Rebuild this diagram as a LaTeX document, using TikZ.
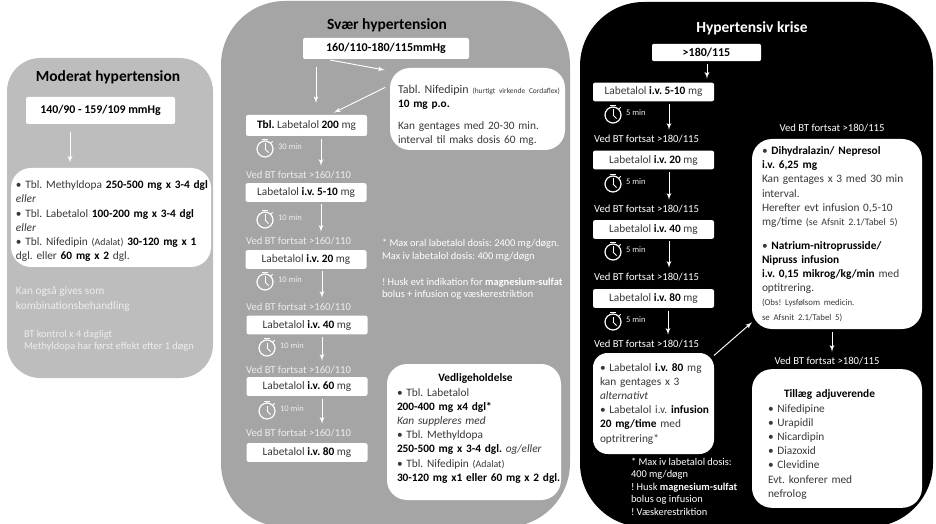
\documentclass[tikz,border=0pt]{standalone}
\usepackage{fontspec}
\setmainfont{Carlito}
\usetikzlibrary{arrows}
\definecolor{lysgraa}{HTML}{BDBDBD}
\definecolor{mellemgraa}{HTML}{A5A5A5}
\definecolor{blegtekst}{HTML}{EDEDED}
\newcommand{\bd}[1]{{\color{black}\bfseries #1}}
\newcommand{\lille}[1]{{\fontsize{6.6}{8}\selectfont #1}}
\newcommand{\stopur}[4]{%
\draw (#2,#3) node (#1) [ur] {};
\draw[urvisir] (#1.center) -- ++(0,-5.5);
\draw[urvisir] (#1.center) -- ++(3.5,3.5);
\draw[urvisir] (#1.north) ++(-3,-1.5) -- ++(6,0);
\draw[urvisir] (#1.45) -- ++(2,-2);
\draw (#2+13,#3-2) node (#1tid) [urtekst] {#4};
}
\begin{document}
\begin{tikzpicture}[x=.75pt,y=-.75pt]
\tikzstyle{every node}=[inner sep=0pt, outer sep=0pt, font=\fontsize{8.5}{10.65}\selectfont\frenchspacing, text=black!78]
\tikzstyle{titel}=[font=\fontsize{11.6}{14}\selectfont\bfseries, text=black]
\tikzstyle{dosis}=[fill=white, rounded corners=1.5pt, minimum width=90.75pt, minimum height=14pt]
\tikzstyle{kasse}=[fill=white, rounded corners=15pt, align=left]
\tikzstyle{fortsat}=[anchor=west, text=blegtekst, font=\fontsize{8}{10}\selectfont\frenchspacing]
\tikzstyle{fortsatsort}=[anchor=west, text=white, font=\fontsize{8}{10}\selectfont\frenchspacing]
\tikzstyle{note}=[anchor=north west, align=left, text=blegtekst, font=\fontsize{7.8}{9.4}\selectfont\frenchspacing]
\tikzstyle{pil}=[draw=white, line width=.7pt, -latex', shorten <=2pt, shorten >=4pt]
\tikzstyle{ur}=[circle, draw=white, line width=.9pt, minimum size=12pt]
\tikzstyle{urvisir}=[draw=white, line width=.7pt]
\tikzstyle{urtekst}=[anchor=west, text=blegtekst, font=\fontsize{6.4}{8}\selectfont]
\useasboundingbox (0,0) rectangle (936,524);
\fill[white] (0,0) rectangle (936,524);
% baggrunde
\fill[lysgraa, rounded corners=25pt] (7,58) rectangle (213,378);
\fill[mellemgraa, rounded corners=48pt] (221,1) rectangle (570,527);
\fill[black, rounded corners=48pt] (580,2) rectangle (933,527);
% moderat
\draw (108,77) node (tmoderat) [titel] {Moderat hypertension};
\draw (100.5,110.5) node (vmoderat) [fill=white, rounded corners=1.5pt, minimum width=111.75pt, minimum height=20.25pt, font=\fontsize{8.9}{12}\selectfont\bfseries, text=black] {140/90 - 159/109 mmHg};
\draw (111,217.5) node (bmoderat) [kasse, text width=142.5pt, inner xsep=3.75pt, minimum height=74.25pt] {%
\mbox{\rule{0pt}{11.5pt}\textbullet\ Tbl. Methyldopa \bd{250-500 mg x 3-4 dgl}}\\
\textit{eller}\\
\mbox{\textbullet\ Tbl. Labetalol \bd{100-200 mg x 3-4 dgl}}\\
\textit{eller}\\
\mbox{\textbullet\ Tbl. Nifedipin {\fontsize{7.4}{9}\selectfont (Adalat)} \bd{30-120 mg x 1}}\\
dgl. eller \bd{60 mg x 2} dgl.};
\draw (16,299) node (nkomb) [anchor=west, align=left, text=blegtekst] {Kan også gives som\\kombinationsbehandling};
\draw (24,341) node (nkontrol) [anchor=west, align=left, text=blegtekst, font=\fontsize{7.8}{9.2}\selectfont\frenchspacing] {BT kontrol x 4 dagligt\\Methyldopa har først effekt efter 1 døgn};
\coordinate (k0) at (70,0);
\draw[pil, shorten <=6pt] (vmoderat.south -| k0) -- (bmoderat.north -| k0);
% svaer
\draw (387,25) node (tsvaer) [titel] {Svær hypertension};
\draw (386,48.5) node (vsvaer) [fill=white, rounded corners=1.5pt, minimum width=124.5pt, minimum height=15.75pt, font=\fontsize{9}{10.65}\selectfont\bfseries, text=black] {160/110-180/115mmHg};
\draw (477.5,109) node (nif) [kasse, text width=119.25pt, inner xsep=6pt, minimum height=61.5pt] {%
\mbox{\rule{0pt}{16pt}{\fontsize{9}{10.65}\selectfont Tabl. Nifedipin} {\fontsize{5.6}{8}\selectfont (hurtigt virkende Cordaflex)}}\\
\bd{10 mg p.o.}\\[6pt]
Kan gentages med 20-30 min.\\
interval til maks dosis 60 mg.};
\draw (306.5,125.5) node (s0) [dosis, minimum height=15.75pt] {\bd{Tbl.} Labetalol \bd{200} mg};
\draw (306,192.5) node (s1) [dosis] {Labetalol \bd{i.v. 5-10} mg};
\draw (306,259.5) node (s2) [dosis] {Labetalol \bd{i.v. 20} mg};
\draw (307,325) node (s3) [dosis] {Labetalol \bd{i.v. 40} mg};
\draw (307,386.5) node (s4) [dosis] {Labetalol \bd{i.v. 60} mg};
\draw (307,452.5) node (s5) [dosis] {Labetalol \bd{i.v. 80} mg};
\draw (246,175) node (f1) [fortsat] {Ved BT fortsat >160/110};
\draw (246,241) node (f2) [fortsat] {Ved BT fortsat >160/110};
\draw (246,307) node (f3) [fortsat] {Ved BT fortsat >160/110};
\draw (246,370) node (f4) [fortsat] {Ved BT fortsat >160/110};
\draw (246,433) node (f5) [fortsat] {Ved BT fortsat >160/110};
\stopur{u1}{265}{149}{30 min}
\stopur{u2}{265}{220}{10 min}
\stopur{u3}{265}{282}{10 min}
\stopur{u4}{267}{348}{10 min}
\stopur{u5}{267}{411}{10 min}
\coordinate (k1) at (316,0);
\coordinate (k2) at (321,0);
\coordinate (k3) at (322,0);
\draw[pil, shorten <=6pt, shorten >=9pt] (vsvaer.south -| k1) -- (s0.north -| k1);
\draw[pil, shorten <=4pt] ([xshift=-46pt]vsvaer.south) -- ([yshift=28.5pt]nif.west);
\draw[pil, shorten <=4pt] ([yshift=18pt]nif.west) -- ([xshift=17pt]s0.north);
\draw[pil] (s0.south -| k2) -- (f1.north -| k2);
\draw[pil] (s1.south -| k2) -- (f2.north -| k2);
\draw[pil] (s2.south -| k3) -- (f3.north -| k3);
\draw[pil] (s3.south -| k3) -- (f4.north -| k3);
\draw[pil] (s4.south -| k3) -- (f5.north -| k3);
\draw (382,239.5) node (nmax) [note, text=white] {* Max oral labetalol dosis: 2400 mg/døgn.\\Max iv labetalol dosis: 400 mg/døgn};
\draw (382,278) node (nhusk) [note, text=white] {! Husk evt indikation for \textbf{magnesium-sulfat}\\bolus + infusion og væskerestriktion};
\draw (474,432) node (vedl) [kasse, text width=115.5pt, inner xsep=7.5pt, minimum height=102pt] {%
\hspace*{31pt}\bd{Vedligeholdelse}\\
\textbullet\ Tbl. Labetalol\\
\bd{200-400 mg x4 dgl*}\\
\textit{Kan suppleres med}\\
\textbullet\ Tbl. Methyldopa\\
\mbox{\bd{250-500 mg x 3-4 dgl.} \textit{og/eller}}\\
\textbullet\ Tbl. Nifedipin {\fontsize{7.4}{9}\selectfont (Adalat)}\\
\mbox{\rule[-6.5pt]{0pt}{0pt}\bd{30-120 mg x1 eller 60 mg x 2 dgl.}}};
% krise
\draw (752,28) node (tkrise) [titel, text=white] {Hypertensiv krise};
\draw (706.5,52.5) node (vkrise) [fill=white, rounded corners=1.5pt, minimum width=81.75pt, minimum height=13pt, font=\fontsize{9}{10.65}\selectfont\bfseries, text=black] {>180/115};
\draw (653.5,92) node (r1) [dosis] {Labetalol \bd{i.v. 5-10} mg};
\draw (653.5,160) node (r2) [dosis] {Labetalol \bd{i.v. 20} mg};
\draw (653.5,229.5) node (r3) [dosis] {Labetalol \bd{i.v. 40} mg};
\draw (653.5,298.5) node (r4) [dosis] {Labetalol \bd{i.v. 80} mg};
\draw (594,139) node (g1) [fortsatsort] {Ved BT fortsat >180/115};
\draw (594,209) node (g2) [fortsatsort] {Ved BT fortsat >180/115};
\draw (594,277) node (g3) [fortsatsort] {Ved BT fortsat >180/115};
\draw (594,344) node (g4) [fortsatsort] {Ved BT fortsat >180/115};
\stopur{v1}{613}{115}{5 min}
\stopur{v2}{613}{184}{5 min}
\stopur{v3}{613}{252}{5 min}
\stopur{v4}{613}{322}{5 min}
\draw (653.5,403.5) node (r5) [kasse, rounded corners=11pt, text width=80.25pt, inner xsep=5.25pt, minimum height=75.75pt] {%
\textbullet\ Labetalol \bd{i.v. 80} mg\\
kan gentages x 3\\
\textit{alternativt}\\
\mbox{\textbullet\ Labetalol i.v. \bd{infusion}}\\
\bd{20 mg/time} med\\
optritrering*};
\draw (631,458) node (nkrise) [note, text=white] {* Max iv labetalol dosis:\\400 mg/døgn\\! Husk \textbf{magnesium-sulfat}\\bolus og infusion\\! Væskerestriktion};
\draw (832,128) node (g5) [fortsatsort, anchor=center] {Ved BT fortsat >180/115};
\draw (837,234) node (dihy) [kasse, text width=112.5pt, inner xsep=7.5pt, minimum width=127.5pt, minimum height=142.5pt] {%
\textbullet\ \bd{Dihydralazin/ Nepresol}\\
\bd{i.v. 6,25 mg}\\
Kan gentages x 3 med 30 min\\
interval.\\
Herefter evt infusion 0,5-10\\
mg/time {\fontsize{7.4}{9}\selectfont (se Afsnit 2.1/Tabel 5)}\\[7pt]
\textbullet\ \bd{Natrium-nitroprusside/}\\
\bd{Nipruss infusion}\\
\mbox{\bd{i.v. 0,15 mikrog/kg/min} med}\\
optitrering.\\
\lille{(Obs! Lysfølsom medicin.}\\
\lille{se Afsnit 2.1/Tabel 5)}};
\draw (827,361) node (g6) [fortsatsort, anchor=center] {Ved BT fortsat >180/115};
\draw (837,438.5) node (adj) [kasse, text width=103.5pt, inner xsep=12pt, minimum width=127.5pt, minimum height=104pt] {%
\rule{0pt}{15pt}\hspace*{12pt}\bd{Tillæg adjuverende}\\
\textbullet\ Nifedipine\\
\textbullet\ Urapidil\\
\textbullet\ Nicardipin\\
\textbullet\ Diazoxid\\
\textbullet\ Clevidine\\
Evt. konferer med\\
nefrolog};
\coordinate (k4) at (707,0);
\coordinate (k5) at (669,0);
\coordinate (k6) at (668,0);
\coordinate (k7) at (832,0);
\draw[pil, shorten >=3pt] (vkrise.south -| k4) -- (r1.north -| k4);
\draw[pil] (r1.south -| k5) -- (g1.north -| k5);
\draw[pil] (r2.south -| k5) -- (g2.north -| k5);
\draw[pil] (r3.south -| k5) -- (g3.north -| k5);
\draw[pil] (r4.south -| k6) -- (g4.north -| k6);
\draw[pil] (dihy.south -| k7) -- (g6.north -| k7);
\draw[pil, shorten <=0pt, shorten >=0pt] ([yshift=36pt]r5.east) -- ([yshift=5pt]dihy.south west);
\end{tikzpicture}
\end{document}
